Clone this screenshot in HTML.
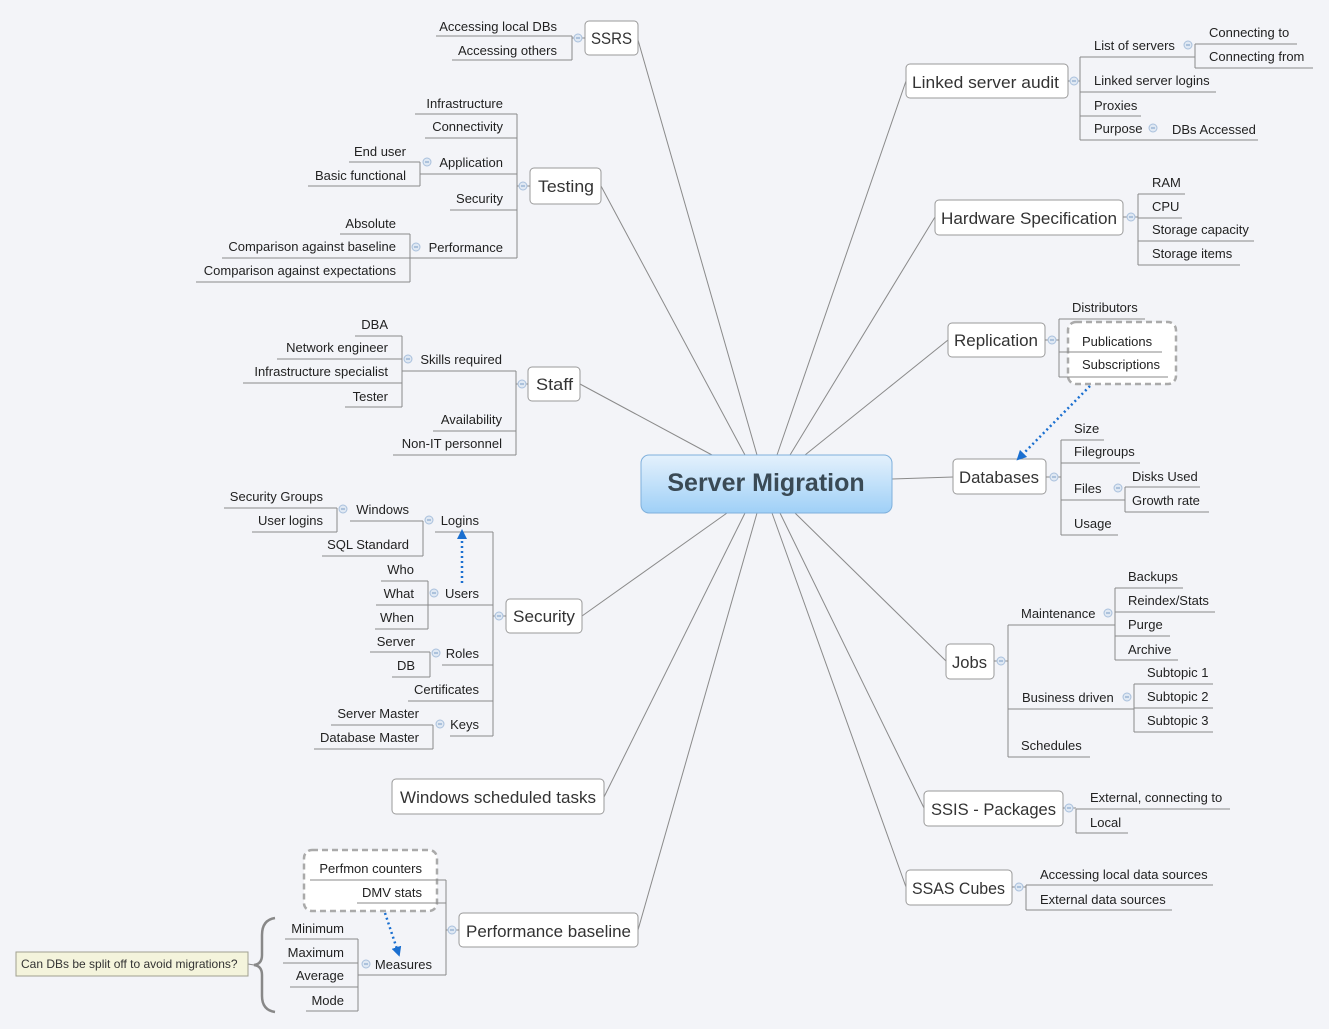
<!DOCTYPE html>
<html><head><meta charset="utf-8"><style>
html,body{margin:0;padding:0;background:#f3f4f8;}
svg{display:block;font-family:"Liberation Sans",sans-serif;}
.l{stroke:#8a8a8a;stroke-width:1;fill:none;}
.t{font-size:13px;fill:#222;}
.e{text-anchor:end;}
.b{fill:#fff;stroke:#9a9a9a;stroke-width:1;}
.bt{font-size:17px;fill:#333;}
.c{fill:#dfe8f3;stroke:#a9c0dc;stroke-width:1;}
</style></head><body>
<svg width="1329" height="1029" viewBox="0 0 1329 1029" xmlns="http://www.w3.org/2000/svg">
<defs>
<linearGradient id="g" x1="0" y1="0" x2="0" y2="1"><stop offset="0" stop-color="#e4f1fc"/><stop offset="1" stop-color="#9fd0f7"/></linearGradient>
<marker id="ar" markerWidth="10" markerHeight="10" refX="5" refY="5" orient="auto" markerUnits="userSpaceOnUse"><path d="M0,0 L10,5 L0,10 z" fill="#1a6fd0"/></marker>
</defs>
<g class="l">
<line x1="638" y1="40" x2="757" y2="455"/>
<line x1="601" y1="186" x2="745" y2="455"/>
<line x1="580" y1="384" x2="712" y2="455"/>
<line x1="582" y1="616" x2="727" y2="513"/>
<line x1="604" y1="797" x2="745" y2="513"/>
<line x1="638" y1="930" x2="757" y2="513"/>
<line x1="906" y1="81" x2="777" y2="455"/>
<line x1="935" y1="217" x2="790" y2="455"/>
<line x1="948" y1="340" x2="805" y2="455"/>
<line x1="953" y1="477" x2="892" y2="479"/>
<line x1="946" y1="661" x2="795" y2="513"/>
<line x1="924" y1="808" x2="780" y2="513"/>
<line x1="906" y1="887" x2="772" y2="513"/>
</g>
<rect x="641" y="455" width="251" height="58" rx="8" fill="url(#g)" stroke="#7fb0dc"/>
<text x="766" y="491" text-anchor="middle" font-size="25" font-weight="bold" fill="#3a4a55">Server Migration</text>

<rect class="b" x="585" y="21" width="53" height="34" rx="4"/><text class="bt" x="591" y="44" textLength="41" lengthAdjust="spacingAndGlyphs">SSRS</text>
<rect class="b" x="530" y="168" width="71" height="36" rx="4"/><text class="bt" x="538" y="192" textLength="56" lengthAdjust="spacingAndGlyphs">Testing</text>
<rect class="b" x="528" y="367" width="52" height="34" rx="4"/><text class="bt" x="536" y="390" textLength="37" lengthAdjust="spacingAndGlyphs">Staff</text>
<rect class="b" x="506" y="599" width="76" height="34" rx="4"/><text class="bt" x="513" y="622" textLength="62" lengthAdjust="spacingAndGlyphs">Security</text>
<rect class="b" x="392" y="779" width="212" height="35" rx="4"/><text class="bt" x="400" y="803" textLength="196" lengthAdjust="spacingAndGlyphs">Windows scheduled tasks</text>
<rect class="b" x="459" y="913" width="179" height="34" rx="4"/><text class="bt" x="466" y="937" textLength="165" lengthAdjust="spacingAndGlyphs">Performance baseline</text>
<rect class="b" x="906" y="64" width="162" height="34" rx="4"/><text class="bt" x="912" y="88" textLength="147" lengthAdjust="spacingAndGlyphs">Linked server audit</text>
<rect class="b" x="935" y="200" width="188" height="35" rx="4"/><text class="bt" x="941" y="224" textLength="176" lengthAdjust="spacingAndGlyphs">Hardware Specification</text>
<rect class="b" x="948" y="323" width="97" height="34" rx="4"/><text class="bt" x="954" y="346" textLength="84" lengthAdjust="spacingAndGlyphs">Replication</text>
<rect class="b" x="953" y="459" width="93" height="35" rx="4"/><text class="bt" x="959" y="483" textLength="80" lengthAdjust="spacingAndGlyphs">Databases</text>
<rect class="b" x="946" y="644" width="48" height="35" rx="4"/><text class="bt" x="952" y="668" textLength="35" lengthAdjust="spacingAndGlyphs">Jobs</text>
<rect class="b" x="924" y="791" width="139" height="35" rx="4"/><text class="bt" x="931" y="815" textLength="125" lengthAdjust="spacingAndGlyphs">SSIS - Packages</text>
<rect class="b" x="906" y="870" width="106" height="35" rx="4"/><text class="bt" x="912" y="894" textLength="93" lengthAdjust="spacingAndGlyphs">SSAS Cubes</text>

<rect x="304" y="850" width="133" height="61" rx="8" fill="#fff" stroke="#aaa" stroke-width="2.5" stroke-dasharray="6,4"/>
<rect x="1068" y="322" width="108" height="62" rx="8" fill="#fff" stroke="#aaa" stroke-width="2.5" stroke-dasharray="6,4"/>

<g class="l">
<line x1="572" y1="38" x2="585" y2="38"/><line x1="572" y1="36" x2="572" y2="60"/>
<line x1="436" y1="36" x2="572" y2="36"/><line x1="452" y1="60" x2="572" y2="60"/>
<line x1="517" y1="186" x2="530" y2="186"/><line x1="517" y1="114" x2="517" y2="258"/>
<line x1="415" y1="114" x2="517" y2="114"/><line x1="425" y1="138" x2="517" y2="138"/>
<line x1="420" y1="174" x2="517" y2="174"/><line x1="450" y1="210" x2="517" y2="210"/>
<line x1="422" y1="258" x2="517" y2="258"/>
<line x1="420" y1="162" x2="420" y2="186"/><line x1="349" y1="162" x2="420" y2="162"/><line x1="308" y1="186" x2="420" y2="186"/>
<line x1="410" y1="234" x2="410" y2="282"/><line x1="340" y1="234" x2="410" y2="234"/><line x1="222" y1="258" x2="422" y2="258"/><line x1="196" y1="282" x2="410" y2="282"/>
<line x1="516" y1="384" x2="528" y2="384"/><line x1="516" y1="371" x2="516" y2="455"/>
<line x1="402" y1="371" x2="516" y2="371"/><line x1="433" y1="431" x2="516" y2="431"/><line x1="393" y1="455" x2="516" y2="455"/>
<line x1="402" y1="336" x2="402" y2="407"/>
<line x1="355" y1="336" x2="402" y2="336"/><line x1="277" y1="359" x2="402" y2="359"/><line x1="243" y1="383" x2="402" y2="383"/><line x1="345" y1="407" x2="402" y2="407"/>
<line x1="493" y1="616" x2="506" y2="616"/><line x1="493" y1="532" x2="493" y2="736"/>
<line x1="435" y1="532" x2="493" y2="532"/><line x1="443" y1="605" x2="493" y2="605"/><line x1="442" y1="665" x2="493" y2="665"/><line x1="408" y1="701" x2="493" y2="701"/><line x1="450" y1="736" x2="493" y2="736"/>
<line x1="423" y1="521" x2="423" y2="556"/><line x1="350" y1="521" x2="423" y2="521"/><line x1="322" y1="556" x2="423" y2="556"/>
<line x1="337" y1="508" x2="337" y2="532"/><line x1="224" y1="508" x2="337" y2="508"/><line x1="252" y1="532" x2="337" y2="532"/>
<line x1="428" y1="581" x2="428" y2="629"/><line x1="381" y1="581" x2="428" y2="581"/><line x1="376" y1="605" x2="443" y2="605"/><line x1="375" y1="629" x2="428" y2="629"/>
<line x1="430" y1="652" x2="430" y2="677"/><line x1="370" y1="652" x2="430" y2="652"/><line x1="392" y1="677" x2="430" y2="677"/>
<line x1="433" y1="725" x2="433" y2="749"/><line x1="331" y1="725" x2="433" y2="725"/><line x1="314" y1="749" x2="433" y2="749"/>
<line x1="446" y1="930" x2="459" y2="930"/><line x1="446" y1="880" x2="446" y2="975"/>
<line x1="310" y1="880" x2="446" y2="880"/><line x1="357" y1="903" x2="446" y2="903"/><line x1="358" y1="975" x2="446" y2="975"/>
<line x1="358" y1="939" x2="358" y2="1011"/>
<line x1="285" y1="939" x2="358" y2="939"/><line x1="283" y1="963" x2="358" y2="963"/><line x1="290" y1="987" x2="358" y2="987"/><line x1="306" y1="1011" x2="358" y2="1011"/>
<line x1="1068" y1="81" x2="1080" y2="81"/><line x1="1080" y1="57" x2="1080" y2="140"/>
<line x1="1080" y1="57" x2="1195" y2="57"/><line x1="1080" y1="92" x2="1216" y2="92"/><line x1="1080" y1="116" x2="1141" y2="116"/><line x1="1080" y1="140" x2="1258" y2="140"/>
<line x1="1195" y1="44" x2="1195" y2="68"/><line x1="1195" y1="44" x2="1297" y2="44"/><line x1="1195" y1="68" x2="1313" y2="68"/>
<line x1="1123" y1="217" x2="1138" y2="217"/><line x1="1138" y1="194" x2="1138" y2="265"/>
<line x1="1138" y1="194" x2="1185" y2="194"/><line x1="1138" y1="218" x2="1182" y2="218"/><line x1="1138" y1="241" x2="1254" y2="241"/><line x1="1138" y1="265" x2="1240" y2="265"/>
<line x1="1045" y1="340" x2="1059" y2="340"/><line x1="1059" y1="319" x2="1059" y2="377"/>
<line x1="1059" y1="319" x2="1145" y2="319"/><line x1="1059" y1="352" x2="1162" y2="352"/><line x1="1059" y1="377" x2="1168" y2="377"/>
<line x1="1046" y1="477" x2="1061" y2="477"/><line x1="1061" y1="440" x2="1061" y2="535"/>
<line x1="1061" y1="440" x2="1104" y2="440"/><line x1="1061" y1="463" x2="1140" y2="463"/><line x1="1061" y1="500" x2="1125" y2="500"/><line x1="1061" y1="535" x2="1118" y2="535"/>
<line x1="1125" y1="487" x2="1125" y2="512"/><line x1="1125" y1="487" x2="1200" y2="487"/><line x1="1125" y1="512" x2="1209" y2="512"/>
<line x1="994" y1="661" x2="1008" y2="661"/><line x1="1008" y1="625" x2="1008" y2="757"/>
<line x1="1008" y1="625" x2="1115" y2="625"/><line x1="1008" y1="709" x2="1134" y2="709"/><line x1="1008" y1="757" x2="1090" y2="757"/>
<line x1="1115" y1="588" x2="1115" y2="660"/>
<line x1="1115" y1="588" x2="1183" y2="588"/><line x1="1115" y1="612" x2="1215" y2="612"/><line x1="1115" y1="636" x2="1170" y2="636"/><line x1="1115" y1="660" x2="1178" y2="660"/>
<line x1="1134" y1="684" x2="1134" y2="732"/>
<line x1="1134" y1="684" x2="1213" y2="684"/><line x1="1134" y1="708" x2="1213" y2="708"/><line x1="1134" y1="732" x2="1213" y2="732"/>
<line x1="1063" y1="808" x2="1076" y2="808"/><line x1="1076" y1="809" x2="1076" y2="833"/>
<line x1="1076" y1="809" x2="1230" y2="809"/><line x1="1076" y1="833" x2="1128" y2="833"/>
<line x1="1012" y1="887" x2="1026" y2="887"/><line x1="1026" y1="885" x2="1026" y2="910"/>
<line x1="1026" y1="885" x2="1213" y2="885"/><line x1="1026" y1="910" x2="1172" y2="910"/>
</g>

<g class="c">
<circle cx="578" cy="38" r="4"/><circle cx="523" cy="186" r="4"/><circle cx="427" cy="162" r="4"/><circle cx="416" cy="247" r="4"/>
<circle cx="522" cy="384" r="4"/><circle cx="408" cy="359" r="4"/>
<circle cx="499" cy="616" r="4"/><circle cx="429" cy="520" r="4"/><circle cx="343" cy="509" r="4"/><circle cx="434" cy="593" r="4"/><circle cx="436" cy="653" r="4"/><circle cx="440" cy="724" r="4"/>
<circle cx="452" cy="930" r="4"/><circle cx="366" cy="964" r="4"/>
<circle cx="1074" cy="81" r="4"/><circle cx="1188" cy="45" r="4"/><circle cx="1153" cy="128" r="4"/>
<circle cx="1131" cy="217" r="4"/><circle cx="1052" cy="340" r="4"/><circle cx="1054" cy="477" r="4"/><circle cx="1118" cy="488" r="4"/>
<circle cx="1001" cy="661" r="4"/><circle cx="1108" cy="613" r="4"/><circle cx="1127" cy="697" r="4"/>
<circle cx="1069" cy="808" r="4"/><circle cx="1019" cy="887" r="4"/>
</g>
<g stroke="#7a9cc6" stroke-width="1">
<path d="M576,38h4M521,186h4M425,162h4M414,247h4M520,384h4M406,359h4M497,616h4M427,520h4M341,509h4M432,593h4M434,653h4M438,724h4M450,930h4M364,964h4M1072,81h4M1186,45h4M1151,128h4M1129,217h4M1050,340h4M1052,477h4M1116,488h4M999,661h4M1106,613h4M1125,697h4M1067,808h4M1017,887h4"/>
</g>

<g class="t e">
<text x="557" y="31">Accessing local DBs</text><text x="557" y="55">Accessing others</text>
<text x="503" y="108">Infrastructure</text><text x="503" y="131">Connectivity</text><text x="503" y="167">Application</text><text x="503" y="203">Security</text><text x="503" y="252">Performance</text>
<text x="406" y="156">End user</text><text x="406" y="180">Basic functional</text>
<text x="396" y="228">Absolute</text><text x="396" y="251">Comparison against baseline</text><text x="396" y="275">Comparison against expectations</text>
<text x="502" y="364">Skills required</text><text x="502" y="424">Availability</text><text x="502" y="448">Non-IT personnel</text>
<text x="388" y="329">DBA</text><text x="388" y="352">Network engineer</text><text x="388" y="376">Infrastructure specialist</text><text x="388" y="401">Tester</text>
<text x="479" y="525">Logins</text><text x="479" y="598">Users</text><text x="479" y="658">Roles</text><text x="479" y="694">Certificates</text><text x="479" y="729">Keys</text>
<text x="409" y="514">Windows</text><text x="409" y="549">SQL Standard</text>
<text x="323" y="501">Security Groups</text><text x="323" y="525">User logins</text>
<text x="414" y="574">Who</text><text x="414" y="598">What</text><text x="414" y="622">When</text>
<text x="415" y="646">Server</text><text x="415" y="670">DB</text>
<text x="419" y="718">Server Master</text><text x="419" y="742">Database Master</text>
<text x="422" y="873">Perfmon counters</text><text x="422" y="897">DMV stats</text><text x="432" y="969">Measures</text>
<text x="344" y="933">Minimum</text><text x="344" y="957">Maximum</text><text x="344" y="980">Average</text><text x="344" y="1005">Mode</text>
</g>
<g class="t">
<text x="1094" y="50">List of servers</text><text x="1094" y="85">Linked server logins</text><text x="1094" y="110">Proxies</text><text x="1094" y="133">Purpose</text><text x="1172" y="134">DBs Accessed</text>
<text x="1209" y="37">Connecting to</text><text x="1209" y="61">Connecting from</text>
<text x="1152" y="187">RAM</text><text x="1152" y="211">CPU</text><text x="1152" y="234">Storage capacity</text><text x="1152" y="258">Storage items</text>
<text x="1072" y="312">Distributors</text><text x="1082" y="346">Publications</text><text x="1082" y="369">Subscriptions</text>
<text x="1074" y="433">Size</text><text x="1074" y="456">Filegroups</text><text x="1074" y="493">Files</text><text x="1074" y="528">Usage</text>
<text x="1132" y="481">Disks Used</text><text x="1132" y="505">Growth rate</text>
<text x="1021" y="618">Maintenance</text><text x="1022" y="702">Business driven</text><text x="1021" y="750">Schedules</text>
<text x="1128" y="581">Backups</text><text x="1128" y="605">Reindex/Stats</text><text x="1128" y="629">Purge</text><text x="1128" y="654">Archive</text>
<text x="1147" y="677">Subtopic 1</text><text x="1147" y="701">Subtopic 2</text><text x="1147" y="725">Subtopic 3</text>
<text x="1090" y="802">External, connecting to</text><text x="1090" y="827">Local</text>
<text x="1040" y="879">Accessing local data sources</text><text x="1040" y="904">External data sources</text>
</g>

<line x1="462" y1="583" x2="462" y2="534" stroke="#1a6fd0" stroke-width="2.5" stroke-dasharray="2,3" marker-end="url(#ar)"/>
<line x1="385" y1="913" x2="398" y2="952" stroke="#1a6fd0" stroke-width="2.5" stroke-dasharray="2,3" marker-end="url(#ar)"/>
<line x1="1090" y1="386" x2="1020" y2="457" stroke="#1a6fd0" stroke-width="2.5" stroke-dasharray="2,3" marker-end="url(#ar)"/>

<path d="M275,918 Q262,920 262,935 L262,955 Q262,964 254,965 Q262,966 262,975 L262,996 Q262,1010 275,1012" fill="none" stroke="#888" stroke-width="2.5"/>
<line x1="248" y1="964" x2="254" y2="965" stroke="#888"/>
<rect x="16" y="952" width="232" height="24" fill="#f4f4dc" stroke="#a0a090"/>
<text x="21" y="968" font-size="12" fill="#333">Can DBs be split off to avoid migrations?</text>
</svg>
</body></html>
